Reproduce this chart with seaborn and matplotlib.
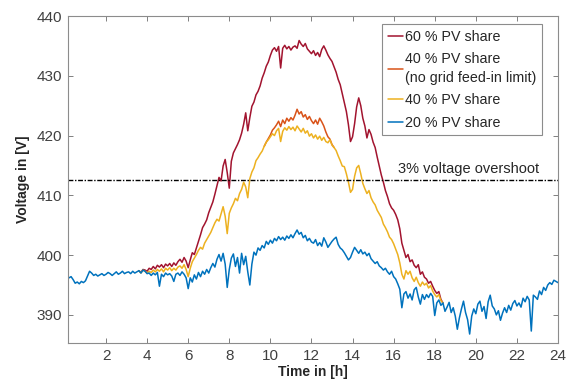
import numpy as np
import pandas as pd
import matplotlib
matplotlib.use("Agg")
import matplotlib.pyplot as plt
import seaborn as sns

# ---------------- data ----------------
# time grid in hours (0.1 h steps)
t_all = np.round(np.arange(1, 241) / 10.0, 1)

v_20 = [
    396.3, 396.2, 396.4, 395.9, 395.3, 395.5, 395.2, 395.6, 395.4, 395.7,
    396.5, 397.3, 397.0, 396.6, 396.8, 396.5, 396.7, 396.9, 396.6, 396.8,
    397.1, 396.9, 396.6, 396.9, 397.2, 396.8, 397.0, 397.3, 396.9, 397.1,
    397.2, 396.9, 397.3, 397.0, 397.2, 397.4, 397.0, 397.5, 397.3, 396.9,
    397.0, 396.6, 397.0, 396.7, 397.1, 394.8, 396.8, 396.4, 397.0, 396.7,
    396.9, 396.5, 395.6, 396.8, 397.0, 396.6, 397.2, 396.8, 396.2, 394.4,
    396.2, 395.5, 396.7, 396.0, 397.1, 396.4, 397.3, 396.8, 397.6, 397.0,
    397.9, 398.6, 398.0, 399.3, 400.1, 399.0, 400.3, 398.5, 394.6, 397.6,
    399.5, 400.2, 398.1, 399.6, 397.0, 400.3, 398.4, 399.8, 397.2, 395.0,
    398.5, 400.5, 400.0, 401.2, 400.8, 401.6, 401.2, 402.3, 401.8, 402.5,
    402.0, 402.8, 402.4, 403.1, 402.6, 403.0, 402.5, 403.2, 402.8, 403.4,
    402.9, 403.6, 404.2, 403.5, 403.8, 402.9, 403.3, 402.4, 402.8, 402.2,
    402.0, 402.6, 401.6, 402.1, 401.5, 402.9, 402.2, 401.3, 401.8, 402.3,
    402.7, 403.0, 401.8, 401.2, 400.9, 400.4, 399.8, 399.2, 399.6, 400.5,
    401.3, 400.8, 400.3, 400.9, 400.2, 400.5, 399.9, 400.3, 399.4, 399.0,
    398.6, 398.9, 398.2, 397.9, 397.5, 397.8, 397.2, 396.8, 397.3, 396.4,
    396.0, 395.2, 394.3, 391.2, 393.5, 393.9, 392.8, 393.5, 392.5, 394.2,
    394.6, 393.0, 391.8, 393.4, 392.6, 393.4, 392.9, 393.6, 393.1, 389.9,
    392.0, 392.5, 391.6, 392.0, 390.6, 391.3, 392.1, 390.4, 391.2, 389.8,
    387.6, 389.5, 391.0, 392.3, 390.4, 389.2, 386.8, 389.8, 391.0, 390.2,
    391.8, 392.3, 390.6, 391.4, 389.4, 392.2, 393.3, 391.5, 391.0, 390.0,
    390.7, 389.1, 390.3, 391.2, 390.4, 391.6, 390.8, 391.9, 392.4, 391.5,
    392.0, 391.3, 392.8, 392.2, 393.1, 392.5, 387.3, 393.3, 393.0, 392.6,
    394.0, 393.4, 394.6, 394.1, 395.0, 395.4, 395.1, 395.8, 395.6, 395.4,
]

# 60 % and 40 % series, 3.6 h .. 18.4 h
t_day = np.round(np.arange(36, 185) / 10.0, 1)

v_60 = [
    397.4, 397.1, 397.6, 397.5, 397.3, 397.8, 397.6, 398.1, 397.7, 398.3,
    398.0, 398.4, 397.9, 398.5, 398.2, 398.6, 398.1, 398.7, 398.3, 398.9,
    399.3, 398.8, 399.6, 399.0, 397.9, 399.2, 400.4, 400.1, 401.2, 402.3,
    403.4, 404.6, 405.2, 405.9, 407.1, 408.0, 408.9, 410.2, 411.6, 413.0,
    412.4, 414.9, 416.0, 413.8, 411.2, 415.7, 417.1, 417.8, 418.5, 419.3,
    420.4, 421.9, 423.8, 420.8, 423.0, 424.9, 425.6, 426.8, 427.4, 428.3,
    429.6, 430.5, 431.6, 432.3, 433.4, 434.3, 434.7, 434.1, 434.9, 431.3,
    434.6, 435.1, 434.5, 434.9, 434.3, 434.8, 435.0, 434.6, 435.9, 435.3,
    434.9, 435.4, 434.5, 434.1, 433.7, 434.2, 433.4, 433.9, 433.2, 434.4,
    435.0, 434.3, 433.5, 432.9, 432.4, 431.5, 430.6, 429.4, 428.5, 427.0,
    425.5, 424.0, 421.8, 419.0, 419.8, 422.0, 424.8, 426.3, 425.0, 422.9,
    421.6, 419.6, 421.0, 420.2, 418.9, 418.0, 416.4, 414.9, 413.4, 412.2,
    410.8, 409.8, 408.6, 407.9, 407.5, 406.8, 405.9, 404.4, 402.0, 400.8,
    399.6, 400.1, 398.9, 399.2, 398.3, 397.9, 398.4, 396.8, 397.2, 396.3,
    396.0, 395.3, 395.6, 394.8, 394.1, 393.6, 393.9, 392.6, 392.0,
]

v_40 = [
    397.4, 397.0, 397.5, 397.3, 397.0, 397.3, 397.1, 397.5, 397.2, 397.6,
    397.3, 397.7, 397.2, 397.8, 397.5, 397.9, 397.4, 397.8, 397.5, 398.0,
    398.2, 397.8, 398.4, 397.6, 396.4, 397.8, 398.9, 399.5, 400.1, 400.8,
    401.3, 401.0, 402.0, 402.6, 403.2, 403.8, 404.6, 405.4, 406.0, 405.7,
    406.9, 408.1, 406.5, 403.6, 407.0, 407.9, 408.6, 409.5, 409.1, 410.3,
    411.0, 412.2, 411.4, 409.6, 412.8, 413.9, 414.6, 415.8, 416.3, 416.9,
    417.4, 418.2, 418.9, 419.3, 419.8, 420.3, 420.0, 420.8, 421.2, 419.0,
    420.7, 421.3, 420.9, 421.5, 421.0, 421.4, 420.8, 421.6, 421.1, 420.6,
    421.2, 420.4, 420.8, 419.9, 420.3, 419.6, 420.1, 419.4, 419.9, 419.2,
    419.7, 419.0, 418.8, 419.3, 418.4, 418.0, 417.5, 416.6, 415.8, 414.9,
    414.8, 413.6, 412.2, 410.5, 411.0, 413.2, 414.6, 415.0, 413.6, 412.0,
    411.1, 410.3, 410.8, 409.6, 408.9, 408.4, 407.5, 406.9, 406.3, 405.2,
    404.6, 403.9, 403.0, 402.6, 401.9, 401.0, 400.1, 398.7, 396.8, 396.0,
    397.4, 396.8, 397.3, 396.2, 395.6, 396.3, 395.4, 394.8, 395.5, 395.0,
    395.3, 394.5, 394.9, 394.0, 393.4, 393.0, 393.4, 392.4, 392.0,
]

# 40 % without feed-in limit, only where it differs (9.7 h .. 13.1 h)
t_nolim = np.round(np.arange(97, 132) / 10.0, 1)
v_40_nolimit = [
    418.2, 418.9, 419.5, 420.1,
    420.9, 421.3, 421.8, 422.4, 421.5, 422.6, 422.0, 422.9, 422.4, 423.0,
    422.6, 423.4, 424.4, 423.6, 424.0, 423.1, 423.5, 422.7, 423.2, 422.5,
    422.0, 422.6, 421.9, 422.9, 422.3, 421.6, 420.6, 419.8, 419.4, 418.5,
    418.0,
]

labels = ["60 % PV share", "40 % PV share\n(no grid feed-in limit)",
          "40 % PV share", "20 % PV share"]
colors = ["#A2142F", "#D95319", "#EDB120", "#0072BD"]
limit_v = 412.5
xticks = list(range(2, 25, 2))
yticks = [390, 400, 410, 420, 430, 440]

# ---------------- plot ----------------
sns.set_theme(style="white")
plt.rcParams["font.family"] = ["Liberation Sans", "DejaVu Sans"]

fig = plt.figure(figsize=(5.71, 3.85), dpi=100)
ax = fig.add_axes([68 / 571, (385 - 343) / 385, 490 / 571, 327 / 385])

series = [(t_day, v_60), (t_nolim, v_40_nolimit), (t_day, v_40), (t_all, v_20)]
for (tt, vv), lab, col in zip(series, labels, colors):
    df = pd.DataFrame({"t": tt, "v": vv})
    sns.lineplot(data=df, x="t", y="v", ax=ax, color=col, lw=1.1,
                 label=lab, estimator=None)

ax.axhline(limit_v, color="black", lw=1.0, ls=(0, (3.5, 1.2, 1, 1.2)))
ax.text(19.63, 413.3, "3% voltage overshoot", ha="center", va="bottom",
        fontsize=10.5, color="#262626")

ax.set_xlim(0.15, 24)
ax.set_ylim(385.3, 440)
ax.set_xticks(xticks)
ax.set_yticks(yticks)
ax.tick_params(direction="in", length=3.5, width=0.7, color="#808080",
               labelcolor="#404040", labelsize=11, top=True, right=True,
               bottom=True, left=True, pad=4)
for s in ax.spines.values():
    s.set_color("#8c8c8c")
    s.set_linewidth(0.8)

ax.set_xlabel("Time in [h]", fontsize=10, fontweight="bold", color="#262626",
              labelpad=2)
ax.set_ylabel("Voltage in [V]", fontsize=10, fontweight="bold", color="#262626",
              labelpad=5)

leg = ax.legend(loc="upper right", bbox_to_anchor=(0.967, 0.976),
                borderaxespad=0, fontsize=10.3, handlelength=1.1,
                handletextpad=0.1, labelspacing=0.6, borderpad=0.4,
                frameon=True, fancybox=False, framealpha=1)
leg.get_frame().set_edgecolor("#8c8c8c")
leg.get_frame().set_linewidth(0.8)
for txt in leg.get_texts():
    txt.set_linespacing(1.4)
for line in leg.get_lines():
    line.set_linewidth(1.1)

fig.savefig("out.png", dpi=100)
